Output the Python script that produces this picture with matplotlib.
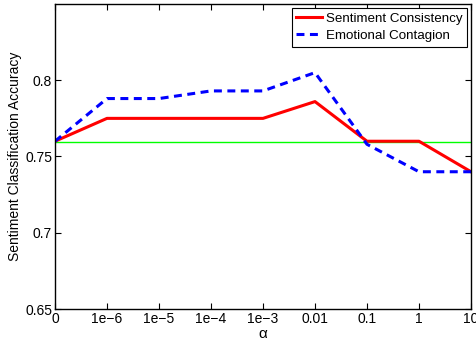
import matplotlib
matplotlib.use("Agg")
import matplotlib.pyplot as plt

plt.rcParams['font.family'] = ['Liberation Sans', 'DejaVu Sans']

alpha_labels = ['0', '1e\u22126', '1e\u22125', '1e\u22124', '1e\u22123', '0.01', '0.1', '1', '10']
sentiment = [0.760, 0.775, 0.775, 0.775, 0.775, 0.786, 0.760, 0.760, 0.740]
emotional = [0.760, 0.788, 0.788, 0.793, 0.793, 0.805, 0.758, 0.740, 0.740]
baseline = 0.7595

fig = plt.figure(figsize=(4.77, 3.47), dpi=100)
ax = fig.add_axes([0.1153, 0.1095, 0.8721, 0.879])

x = range(len(alpha_labels))
ax.axhline(baseline, color='#00ff00', lw=1)
ax.plot(x, sentiment, '-', color='red', lw=2.2, label='Sentiment Consistency')
ax.plot(x, emotional, '--', color='blue', lw=2.2, dashes=(2.6, 1.8), label='Emotional Contagion')

ax.set_xlim(0, 8)
ax.set_ylim(0.65, 0.85)
ax.set_xticks(list(x))
ax.set_xticklabels(alpha_labels, fontsize=10)
ax.set_yticks([0.65, 0.7, 0.75, 0.8])
ax.set_yticklabels(['0.65', '0.7', '0.75', '0.8'], fontsize=10)
ax.tick_params(direction='in', top=True, right=True, length=4, width=0.8, pad=2)
ax.set_xlabel('\u03b1', fontsize=11, labelpad=1)
ax.set_ylabel('Sentiment Classification Accuracy', fontsize=10, labelpad=2)
for s in ax.spines.values():
    s.set_linewidth(1)

leg = ax.legend(loc='upper right', fontsize=9.6, fancybox=False, framealpha=1,
                edgecolor='black', borderpad=0.35, labelspacing=0.35,
                handlelength=1.9, handletextpad=0.3, borderaxespad=0.3)
leg.get_frame().set_linewidth(0.8)

fig.savefig('out.png', dpi=100)
